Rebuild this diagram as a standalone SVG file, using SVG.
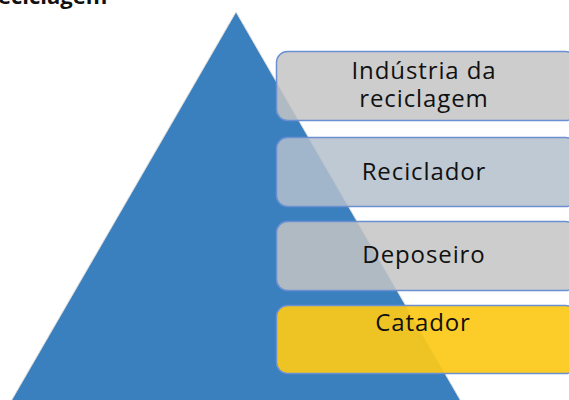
<svg xmlns="http://www.w3.org/2000/svg" width="569" height="400" viewBox="0 0 569 400">
<style>
.box{stroke:#6b90d2;stroke-width:1.5}
.lbl{font-family:"Open Sans","DejaVu Sans",sans-serif;font-size:24px;letter-spacing:0.9px;fill:#111;text-anchor:middle}
.title{font-family:"Open Sans","DejaVu Sans",sans-serif;font-size:22px;font-weight:bold;fill:#111}
</style>
<rect width="569" height="400" fill="#ffffff"/>
<text class="title" x="-2" y="4">eciclagem</text>
<g id="pyramid">
<polygon points="236,12 466,410 6,410" fill="#3a7fbe" stroke="#d8d8d8" stroke-width="1"/>
</g>
<g id="node-industria">
<rect class="box" x="276.5" y="51.5" width="300" height="69" rx="11" fill="#c4c4c4" fill-opacity="0.85"/>
<text class="lbl" x="424" y="79">Indústria da</text>
<text class="lbl" x="424" y="107">reciclagem</text>
</g>
<g id="node-reciclador">
<rect class="box" x="276.5" y="137.5" width="300" height="69" rx="11" fill="#b4c0cd" fill-opacity="0.85"/>
<text class="lbl" x="424" y="180">Reciclador</text>
</g>
<g id="node-deposeiro">
<rect class="box" x="276.5" y="221.5" width="300" height="69" rx="11" fill="#c4c4c4" fill-opacity="0.85"/>
<text class="lbl" x="424" y="263">Deposeiro</text>
</g>
<g id="node-catador">
<rect class="box" x="276.5" y="305.5" width="300" height="68" rx="11" fill="#fcc918" fill-opacity="0.93"/>
<text class="lbl" x="423" y="331">Catador</text>
</g>
<g id="connectors"></g>
</svg>
